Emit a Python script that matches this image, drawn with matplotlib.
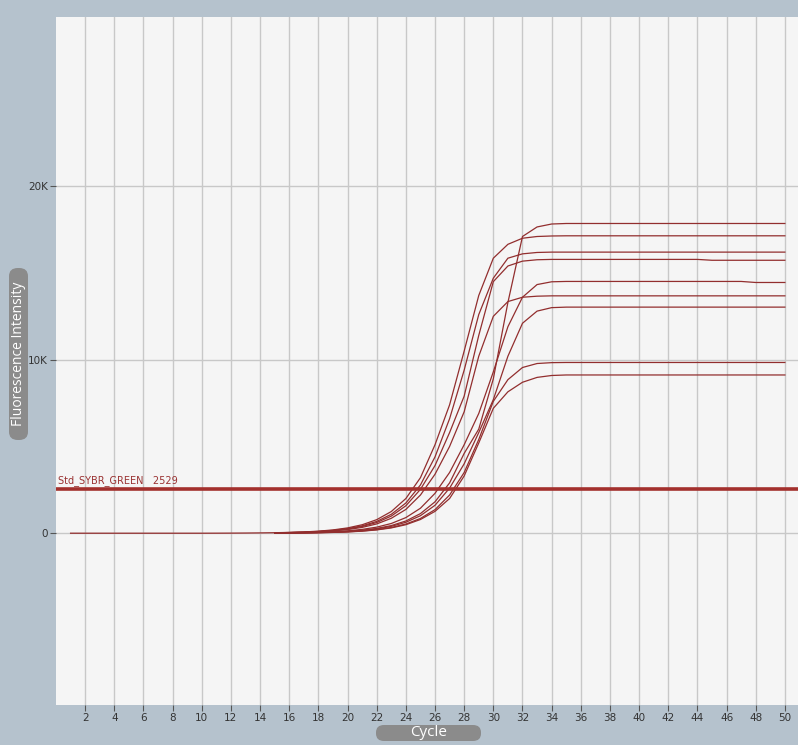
import matplotlib
matplotlib.use('Agg')
import matplotlib.pyplot as plt
from matplotlib.patches import FancyBboxPatch

# cycles covered by most curves, and the lead-in of the one curve that starts at cycle 1
cycles = list(range(15, 51))
early_cycles = list(range(1, 15))
early_values = [0, 0, 0, 0, 0, 0, 0, 0, 0, 0, 2, 5, 10, 18]

# fluorescence per cycle (15..50)
curve_b = [29, 46, 73, 119, 190, 306, 488, 781, 1249, 1998, 3200, 5100, 7400, 10500, 13700, 15850, 16650, 17000, 17100, 17130,
           17140, 17140, 17140, 17140, 17140, 17140, 17140, 17140, 17140, 17140, 17140, 17140, 17140, 17140, 17140, 17140]
curve_c = [25, 40, 63, 102, 165, 265, 425, 680, 1090, 1740, 2780, 4400, 6600, 9400, 12600, 14700, 15850, 16100, 16180, 16200,
           16200, 16200, 16200, 16200, 16200, 16200, 16200, 16200, 16200, 16200, 16200, 16200, 16200, 16200, 16200, 16200]
curve_d = [23, 37, 58, 94, 152, 240, 387, 617, 987, 1581, 2529, 3900, 5800, 7900, 11400, 14500, 15400, 15680, 15760, 15780,
           15780, 15780, 15780, 15780, 15780, 15780, 15780, 15780, 15780, 15780, 15730, 15730, 15730, 15730, 15730, 15730]
curve_f = [20, 32, 50, 82, 130, 210, 335, 535, 860, 1370, 2200, 3400, 5000, 7000, 10200, 12500, 13350, 13600, 13660, 13680,
           13680, 13680, 13680, 13680, 13680, 13680, 13680, 13680, 13680, 13680, 13680, 13680, 13680, 13680, 13680, 13680]
curve_e = [13, 20, 33, 53, 86, 138, 220, 350, 560, 900, 1440, 2300, 3500, 5100, 6900, 9300, 11900, 13600, 14330, 14490,
           14510, 14510, 14510, 14510, 14510, 14510, 14510, 14510, 14510, 14510, 14510, 14510, 14510, 14450, 14450, 14450]
curve_a = [10, 16, 26, 42, 67, 108, 172, 275, 440, 705, 1130, 1810, 2900, 4600, 6000, 8900, 13300, 17100, 17650, 17820,
           17850, 17850, 17850, 17850, 17850, 17850, 17850, 17850, 17850, 17850, 17850, 17850, 17850, 17850, 17850, 17850]
curve_g = [9, 14, 23, 37, 60, 96, 155, 245, 395, 630, 1010, 1610, 2600, 4000, 5800, 7700, 10200, 12100, 12800, 13000,
           13030, 13030, 13030, 13030, 13030, 13030, 13030, 13030, 13030, 13030, 13030, 13030, 13030, 13030, 13030, 13030]
curve_h = [8, 12, 19, 31, 50, 80, 128, 205, 330, 530, 850, 1360, 2200, 3500, 5400, 7600, 8850, 9550, 9780, 9830,
           9840, 9840, 9840, 9840, 9840, 9840, 9840, 9840, 9840, 9840, 9840, 9840, 9840, 9840, 9840, 9840]
curve_i = [7, 11, 18, 29, 46, 74, 118, 190, 305, 490, 790, 1260, 2000, 3300, 5200, 7200, 8150, 8700, 8980, 9090,
           9120, 9120, 9120, 9120, 9120, 9120, 9120, 9120, 9120, 9120, 9120, 9120, 9120, 9120, 9120, 9120]

threshold = 2529
threshold_name = "Std_SYBR_GREEN"
xticks = list(range(2, 51, 2))
yticks = [0, 10000, 20000]
ytick_labels = ["0", "10K", "20K"]

bg = "#b5c2cd"
line_c = "#922e2e"

fig = plt.figure(figsize=(7.98, 7.45), dpi=100, facecolor=bg)
ax = fig.add_axes([56 / 798, 40 / 745, 742 / 798, 688 / 745])
ax.set_facecolor("#f5f5f5")

ax.plot(early_cycles + cycles, early_values + curve_b, color=line_c, lw=0.9)
for ys in [curve_c, curve_d, curve_f, curve_e, curve_a, curve_g, curve_h, curve_i]:
    ax.plot(cycles, ys, color=line_c, lw=0.9)

ax.axhline(threshold, color="#a3302d", lw=2.6, zorder=3)
ax.text(0.15, threshold + 180, "%s   %d" % (threshold_name, threshold),
        fontsize=7, color="#9a3232", va="bottom", ha="left")

ax.set_xlim(0, 50.9)
ax.set_ylim(-9900, 29750)
ax.set_xticks(xticks)
ax.set_yticks(yticks)
ax.set_yticklabels(ytick_labels)
ax.grid(True, color="#c8c8c8", lw=1)
ax.set_axisbelow(True)
for s in ax.spines.values():
    s.set_visible(False)
ax.tick_params(direction="out", length=4, width=0.8, color="#555555",
               labelsize=7.5, labelcolor="#333333", pad=2)

# grey pill-shaped axis captions
cap = FancyBboxPatch((376 / 798, 4 / 745), 105 / 798, 16 / 745,
                     boxstyle="round,pad=0,rounding_size=0.01",
                     transform=fig.transFigure, fc="#8b8b8b", ec="none")
fig.patches.append(cap)
fig.text(428.5 / 798, 12 / 745, "Cycle", color="white", fontsize=11,
         ha="center", va="center", family="Open Sans")

cap2 = FancyBboxPatch((9 / 798, 305 / 745), 19 / 798, 172 / 745,
                      boxstyle="round,pad=0,rounding_size=0.011",
                      transform=fig.transFigure, fc="#8b8b8b", ec="none")
fig.patches.append(cap2)
fig.text(18.5 / 798, 391 / 745, "Fluorescence Intensity", color="white", fontsize=10,
         ha="center", va="center", rotation=90, family="Open Sans")

fig.savefig("out.png", dpi=100, facecolor=bg)
